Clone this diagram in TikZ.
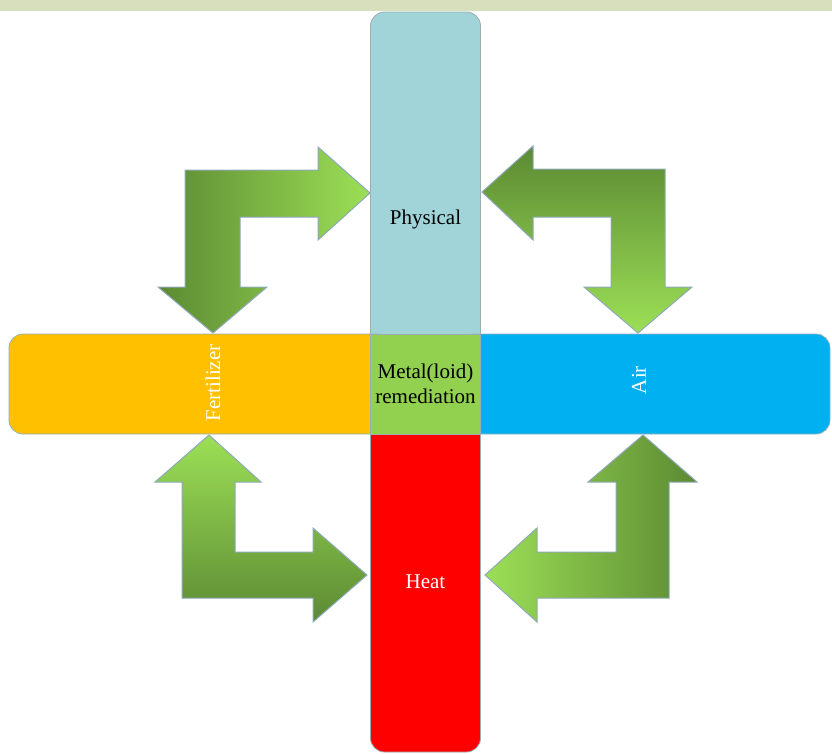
\documentclass[tikz,border=0pt]{standalone}
\usepackage{fontspec}
\setmainfont{Liberation Serif}
\definecolor{bandcol}{HTML}{D8DFBC}
\definecolor{physcol}{HTML}{A0D4D8}
\definecolor{fertcol}{HTML}{FFC000}
\definecolor{corecol}{HTML}{92D050}
\definecolor{aircol}{HTML}{00B0F0}
\definecolor{heatcol}{HTML}{FF0000}
\definecolor{boxline}{HTML}{9AAEB4}
\definecolor{arrline}{HTML}{8EA9B8}
\definecolor{darkgr}{HTML}{5C8A33}
\definecolor{lightgr}{HTML}{9CDF56}
\tikzset{
  box/.style={draw=boxline, line width=0.8pt, rounded corners=14pt, inner sep=0pt},
  lbl/.style={font=\fontsize{21}{25}\selectfont, align=center, inner sep=0pt},
  blk/.style={draw=arrline, line width=1pt, line join=miter},
}
\begin{document}
\begin{tikzpicture}[x=1pt, y=-1pt]
\useasboundingbox (0,0) rectangle (832,753);
\fill[bandcol] (0,0) rectangle (832,11);
% side boxes (ends tucked under the centre box)
\node[box, fill=physcol, minimum width=110pt, minimum height=348pt] (phys) at (425.5,186) {};
\node[box, fill=heatcol, minimum width=110pt, minimum height=342pt] (heat) at (425.5,581) {};
\node[box, fill=fertcol, minimum width=381pt, minimum height=100pt] (fert) at (199.5,384) {};
\node[box, fill=aircol, minimum width=370pt, minimum height=100pt] (air) at (645,384) {};
\node[draw=boxline, line width=0.8pt, fill=corecol, minimum width=110pt, minimum height=100pt, inner sep=0pt] (core) at (425.5,384) {};
% labels
\node[lbl, anchor=base] (tphys) at (425.5,224) {Physical};
\node[lbl, anchor=base, text=white] (theat) at (425.5,588) {Heat};
\node[lbl] (tcore) at (425.5,384) {Metal(loid)\\remediation};
\node[lbl, rotate=90, text=white] (tfert) at (213,383) {Fertilizer};
\node[lbl, rotate=90, text=white] (tair) at (639,380) {Air};
% bent block arrows
\path[blk, left color=darkgr, right color=lightgr]
  (213,333) -- (267,287) -- (240,287) -- (240,217) -- (318,217) -- (318,240)
  -- (370,193) -- (318,147) -- (318,170) -- (185,170) -- (185,287) -- (158,287) -- cycle;
\path[blk, top color=darkgr, bottom color=lightgr]
  (482,192) -- (533,146) -- (533,169) -- (665,169) -- (665,287) -- (692,287)
  -- (638,333) -- (584,287) -- (611,287) -- (611,217) -- (533,217) -- (533,240) -- cycle;
\path[blk, top color=lightgr, bottom color=darkgr]
  (209,435) -- (261,482) -- (235,482) -- (235,552) -- (313,552) -- (313,528)
  -- (367,575) -- (313,622) -- (313,598) -- (182,598) -- (182,482) -- (155,482) -- cycle;
\path[blk, left color=lightgr, right color=darkgr]
  (643,435) -- (697,482) -- (669,482) -- (669,598) -- (537,598) -- (537,622)
  -- (485,575) -- (537,528) -- (537,552) -- (616,552) -- (616,482) -- (588,482) -- cycle;
\end{tikzpicture}
\end{document}
